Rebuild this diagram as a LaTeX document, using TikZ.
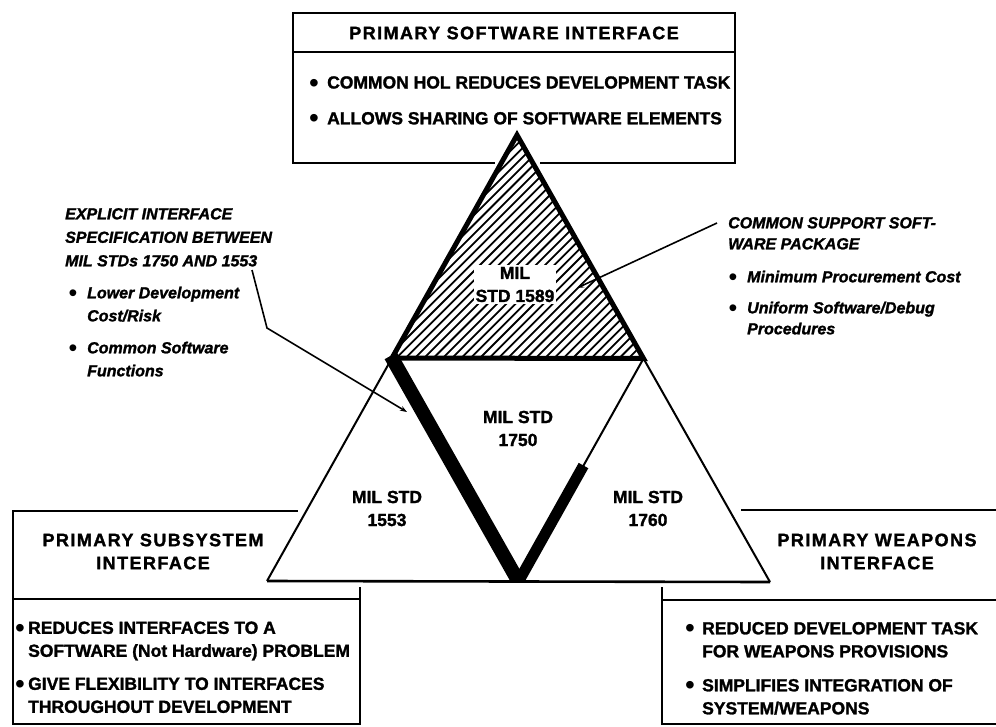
\documentclass[tikz,border=0pt]{standalone}
\usepackage{fontspec}
\setmainfont{Liberation Sans}[BoldFeatures={FakeBold=1.5},BoldItalicFeatures={FakeBold=1.5}]
\usetikzlibrary{arrows.meta,calc}
\begin{document}
\begin{tikzpicture}[x=1pt,y=-1pt,
  frame/.style={line width=2.4pt, line cap=rect},
  thinline/.style={line width=2pt},
  hdr/.style={font=\bfseries\fontsize{18}{23}\selectfont\addfontfeature{LetterSpace=8}, align=center, inner sep=0pt},
  bul/.style={font=\bfseries\fontsize{17.5}{23}\selectfont, align=left, anchor=base west, inner sep=0pt},
  dotb/.style={font=\fontsize{28}{28}\selectfont, anchor=base, inner sep=0pt, yshift=-3.5pt},
  ann/.style={font=\bfseries\itshape\fontsize{16}{23.5}\selectfont, align=left, anchor=base west, inner sep=0pt},
  anndot/.style={font=\fontsize{25}{25}\selectfont, anchor=base, inner sep=0pt, yshift=-3pt},
  lab/.style={font=\bfseries\fontsize{17.5}{23}\selectfont, align=center, inner sep=1.5pt},
  leader/.style={line width=1.6pt, -{Stealth[length=7pt,width=5pt]}},
]
\useasboundingbox (0,0) rectangle (996,726);
\fill[white] (0,0) rectangle (996,726);

% triangle vertices
\coordinate (A) at (517,135);
\coordinate (L) at (267,581);
\coordinate (R) at (770,582);
\coordinate (ML) at ($(A)!0.5!(L)$);
\coordinate (MR) at ($(A)!0.5!(R)$);
\coordinate (B) at ($(L)!0.5!(R)$);
\coordinate (P) at ($(MR)!0.48!(B)$);

% top box
\draw[frame] (293,163) -- (293,13) -- (735,13) -- (735,163);
\draw[frame] (293,52) -- (735,52);
\draw[frame] (293,163) -- (494,163);
\draw[frame] (541,163) -- (735,163);
\node[hdr] (t0) at (514,33) {PRIMARY SOFTWARE INTERFACE};
\node[dotb] (t1d) at (314,88.5) {•};
\node[bul] (t1) at (327,88.5) {COMMON HOL REDUCES DEVELOPMENT TASK};
\node[dotb] (t2d) at (314,124.3) {•};
\node[bul] (t2) at (327,124.3) {ALLOWS SHARING OF SOFTWARE ELEMENTS};

% hatched top triangle
\begin{scope}
  \clip (A) -- (ML) -- (MR) -- cycle;
  \foreach \c in {652,661.3,...,1010} \draw[line width=1.8pt] (\c-100,100) -- (\c-420,420);
\end{scope}
\node[lab, fill=white] (s1589) at (515,284.5) {MIL\\STD 1589};
\draw[line width=5pt, line join=miter] (A) -- (ML) -- (MR) -- cycle;

% thin outer lines
\draw[thinline] (ML) -- (L);
\draw[line width=2.6pt] (L) -- (R);
\draw[thinline] (MR) -- (R);
\draw[thinline] (MR) -- (B);

% thick V
\begin{scope}
  \clip (300,340) rectangle (700,582.3);
  \draw[line width=14pt] ($(ML)!-0.01!(B)$) -- ($(ML)!1.15!(B)$);
  \draw[line width=11pt] (P) -- ($(MR)!1.15!(B)$);
\end{scope}

% triangle labels
\node[lab] (s1750) at (518,428.5) {MIL STD\\1750};
\node[lab] (s1553) at (387,508.5) {MIL STD\\1553};
\node[lab] (s1760) at (648,508.5) {MIL STD\\1760};

% left annotation (base = last line)
\node[ann] (la) at (65,266.3) {EXPLICIT INTERFACE\\SPECIFICATION BETWEEN\\MIL STDs 1750 AND 1553};
\node[anndot] (la1d) at (73,298.3) {•};
\node[ann, font=\bfseries\itshape\fontsize{16}{23}\selectfont] (la1) at (87,321.3) {Lower Development\\Cost/Risk};
\node[anndot] (la2d) at (73,353.3) {•};
\node[ann, font=\bfseries\itshape\fontsize{16}{23}\selectfont] (la2) at (87,376.3) {Common Software\\Functions};
\coordinate (l1) at (252,270);
\coordinate (l2) at (267,328);
\coordinate (l3) at (407,412);
\draw[leader] (l1) -- (l2) -- (l3);

% right annotation
\node[ann, font=\bfseries\itshape\fontsize{16}{21}\selectfont] (ra) at (728,249.3) {COMMON SUPPORT SOFT-\\WARE PACKAGE};
\node[anndot] (ra1d) at (733,282.3) {•};
\node[ann] (ra1) at (747,282.3) {Minimum Procurement Cost};
\node[anndot] (ra2d) at (733,313.3) {•};
\node[ann, font=\bfseries\itshape\fontsize{16}{21}\selectfont] (ra2) at (747,334.3) {Uniform Software/Debug\\Procedures};
\coordinate (r1) at (717,223);
\coordinate (r2) at (577,288);
\draw[leader] (r1) -- (r2);

% lower left box
\draw[frame] (297,511) -- (13,511) -- (13,724);
\draw[frame] (13,599) -- (360,599);
\draw[frame] (360,588) -- (360,724);
\draw[line width=1.2pt] (13,724) -- (360,724);
\node[hdr] (lh) at (153,551.5) {PRIMARY SUBSYSTEM\\INTERFACE};
\node[dotb] (lb1d) at (20,633.8) {•};
\node[bul] (lb1) at (28,656.8) {REDUCES INTERFACES TO A\\SOFTWARE (Not Hardware) PROBLEM};
\node[dotb] (lb2d) at (20,689.8) {•};
\node[bul] (lb2) at (28,712.8) {GIVE FLEXIBILITY TO INTERFACES\\THROUGHOUT DEVELOPMENT};

% lower right box
\draw[frame] (742,510) -- (996,510);
\draw[frame] (662,600) -- (996,600);
\draw[frame] (662,588) -- (662,724);
\draw[line width=1.2pt] (662,724) -- (996,724);
\node[hdr] (rh) at (877,551.5) {PRIMARY WEAPONS\\INTERFACE};
\node[dotb] (rb1d) at (690,634.3) {•};
\node[bul] (rb1) at (702,657.3) {REDUCED DEVELOPMENT TASK\\FOR WEAPONS PROVISIONS};
\node[dotb] (rb2d) at (690,691.3) {•};
\node[bul] (rb2) at (702,714.3) {SIMPLIFIES INTEGRATION OF\\SYSTEM/WEAPONS};
\end{tikzpicture}
\end{document}
